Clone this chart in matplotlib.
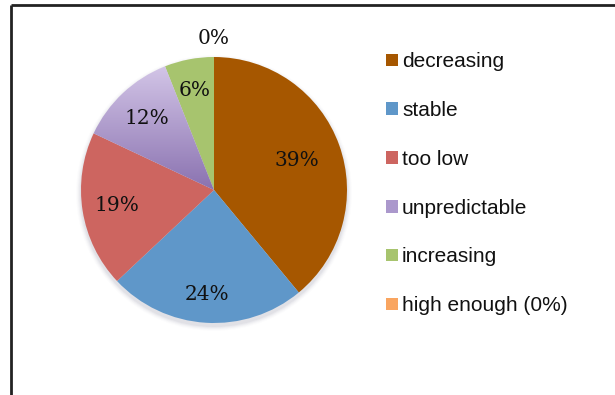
import matplotlib.pyplot as plt
import numpy as np
from matplotlib.patches import Rectangle
from matplotlib.colors import LinearSegmentedColormap

# Survey answers (share of respondents, %)
labels = ['decreasing', 'stable', 'too low', 'unpredictable', 'increasing', 'high enough (0%)']
shares = [39, 24, 19, 12, 6, 0]
colors = ['#A65700', '#5F97C9', '#CD6560', '#AB98CC', '#A7C46E', '#F9A560']

W, H = 615, 395
fig = plt.figure(figsize=(W / 100, H / 100), dpi=100)
ax = fig.add_axes([0, 0, 1, 1])

cx, cy, r = 214, H - 190, 133

# soft shadow under the pie
for i, a in enumerate(np.linspace(0.05, 0.01, 5)):
    ax.add_patch(plt.Circle((cx, cy - 3), r + 1 + i, color='#404060', alpha=a, lw=0, zorder=0))

wedges, _ = ax.pie(shares, colors=colors, startangle=90, counterclock=False,
                   center=(cx, cy), radius=r, frame=True,
                   wedgeprops=dict(linewidth=0))
ax.set_xlim(0, W)
ax.set_ylim(0, H)
ax.set_aspect('equal')
ax.axis('off')

# vertical shading on the purple slice
grad = np.linspace(0, 1, 256).reshape(-1, 1)
purple = LinearSegmentedColormap.from_list('purple', ['#D8CBEB', '#8A72B0'])
w = wedges[3]
w.set_facecolor('none')
im = ax.imshow(grad, cmap=purple, extent=(cx - r, cx, cy, cy + r),
               origin='upper', aspect='auto', zorder=1)
im.set_clip_path(w)

# percentage labels along each wedge, with per-slice radial offsets
label_dist = [0.66, 0.79, 0.74, 0.74, 0.76, 1.14]
for wd, s, d in zip(wedges, shares, label_dist):
    ang = np.deg2rad((wd.theta1 + wd.theta2) / 2)
    ax.text(cx + d * r * np.cos(ang), cy + d * r * np.sin(ang), f'{s}%',
            ha='center', va='center', fontsize=14.5, family='DejaVu Serif',
            color='#111111', zorder=5)

# legend
handles = [Rectangle((0, 0), 1, 1, facecolor=c, edgecolor='none') for c in colors]
leg = ax.legend(handles, labels, loc='upper left', bbox_to_anchor=(378 / W, 1 - 44 / H),
                frameon=False, prop={'family': 'Liberation Sans', 'size': 15},
                handlelength=0.55, handleheight=0.55, handletextpad=0.2,
                labelspacing=1.43, borderaxespad=0)
for t in leg.get_texts():
    t.set_color('#111111')

# border of the chart area
ax.plot([11, W], [H - 5, H - 5], color='#222222', lw=2, clip_on=False, solid_capstyle='butt')
ax.plot([11, 11], [0, H - 5], color='#222222', lw=2, clip_on=False, solid_capstyle='butt')

fig.savefig('out.png', dpi=100)
